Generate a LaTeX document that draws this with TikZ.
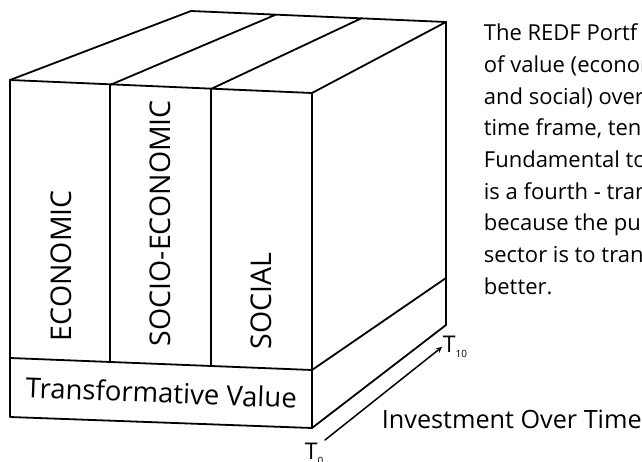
\documentclass[tikz,border=0pt]{standalone}
\usepackage{fontspec}
\setmainfont{Open Sans}
\newfontfamily\notefont{Open Sans}
\newcommand\tsub[1]{\raisebox{-5pt}{\fontsize{10}{10}\selectfont #1}}

\begin{document}
\begin{tikzpicture}[x=1pt, y=-1pt, line width=1.8pt, line join=round, line cap=round, >=stealth,
	boxtext/.style={inner sep=0pt, font=\fontsize{28.5}{30}\selectfont},
	notetext/.style={inner sep=0pt, anchor=base west, font=\notefont\fontsize{22}{22}\selectfont}]
	\useasboundingbox (0,0) rectangle (642,462);
	% front face
	\path (10,80) coordinate (A)
	(110,85) coordinate (D1)
	(211,89) coordinate (D2)
	(312,93) coordinate (B)
	(312,428) coordinate (C)
	(10,417) coordinate (D)
	(10,358) coordinate (E)
	(110,362) coordinate (E1)
	(211,366) coordinate (E2)
	(312,370) coordinate (F)
	;
	% back edges
	\path (191,11) coordinate (A')
	(275,15) coordinate (D1')
	(362,18) coordinate (D2')
	(446,22) coordinate (B')
	(446,325) coordinate (C')
	(446,278) coordinate (F')
	;
	\draw (A)--(B)--(C)--(D)--cycle;
	\draw (E)--(F) (D1)--(E1) (D2)--(E2);
	\draw (A)--(A')--(B')--(B) (D1)--(D1') (D2)--(D2');
	\draw (B')--(C')--(C) (F)--(F');
	% time axis
	\path (325,440) coordinate (T0) (442,347) coordinate (T10);
	\draw[->, line width=1.5pt] (T0)--(T10);
	\node[inner sep=0pt, anchor=base west, font=\fontsize{23}{23}\selectfont] (t10) at (442,352) {T\tsub{10}};
	\node[inner sep=0pt, anchor=base west, font=\fontsize{23}{23}\selectfont] (t0) at (304,459) {T\tsub{0}};
	\node[inner sep=0pt, anchor=base west, font=\fontsize{25.2}{25.2}\selectfont] (inv) at (381,428) {Investment Over Time};
	% labels
	\node[boxtext, rotate=90, anchor=west] (econ) at (61,342) {ECONOMIC};
	\node[boxtext, rotate=90, anchor=west] (socecon) at (160,347) {SOCIO-ECONOMIC};
	\node[boxtext, rotate=90, anchor=west] (soc) at (261,350) {SOCIAL};
	\node[boxtext, rotate=-2.2, anchor=base, font=\fontsize{27.5}{27.5}\selectfont] (trans) at (161,403) {Transformative Value};
	% note
	\foreach \s [count=\i from 0] in {The REDF Portf, of value (econom, and social) over, {time frame, ten}, Fundamental to, is a fourth - tran, because the pur, sector is to tran, better.}
		\node[notetext] (note\i) at (483,40.7+31.7*\i) {\s};
\end{tikzpicture}
\end{document}
